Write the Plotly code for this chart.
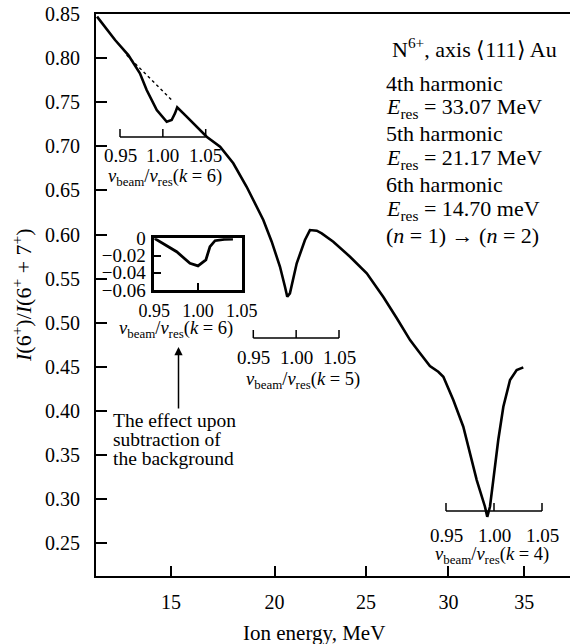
import numpy as np
import plotly.graph_objects as go

# ---------------- data ----------------
energy_mev = [11.87, 12.60, 13.15, 13.64, 13.93, 14.37, 14.81, 15.03, 15.18, 15.28,
              15.71, 16.17, 16.64, 17.28, 17.92, 18.58, 18.91, 19.42, 19.85, 20.28,
              20.54, 20.66, 20.80, 21.16, 21.60, 21.87, 22.24, 22.51, 23.15, 24.09,
              25.05, 26.02, 26.81, 27.62, 28.23, 28.84, 29.36, 29.68, 30.31, 30.95,
              31.82, 32.36, 32.51, 32.69, 32.91, 33.24, 33.58, 34.03, 34.48, 34.93]
ratio = [0.8470, 0.8205, 0.8035, 0.7828, 0.7638, 0.7412, 0.7279, 0.7298, 0.7374, 0.7442,
         0.7336, 0.7222, 0.7109, 0.6996, 0.6808, 0.6542, 0.6392, 0.6165, 0.5919, 0.5635,
         0.5409, 0.5295, 0.5334, 0.5674, 0.5938, 0.6051, 0.6044, 0.6014, 0.5919, 0.5749,
         0.5561, 0.5292, 0.5054, 0.4804, 0.4654, 0.4510, 0.4445, 0.4388, 0.4124, 0.3822,
         0.3217, 0.2915, 0.2801, 0.2915, 0.3217, 0.3671, 0.4048, 0.4351, 0.4464, 0.4495]

bg_energy = [13.08, 15.03]
bg_ratio = [0.8035, 0.7525]

inset_r = [0.950, 0.960, 0.9756, 0.9908, 1.000, 1.009, 1.0137, 1.0195, 1.030, 1.040]
inset_d = [0.000, -0.006, -0.0156, -0.029, -0.032, -0.025, -0.0097, -0.0028, -0.0012, -0.001]

x_ticks_mev = [15, 20, 25, 30, 35]
y_ticks = [0.25, 0.30, 0.35, 0.40, 0.45, 0.50, 0.55, 0.60, 0.65, 0.70, 0.75, 0.80, 0.85]
ratio_ticks = [0.95, 1.00, 1.05]
ratio_labels = ["0.95", "1.00", "1.05"]
inset_y_ticks = [0, -0.02, -0.04, -0.06]
inset_y_labels = ["0", "\u22120.02", "\u22120.04", "\u22120.06"]
harmonics_k = [6, 5, 4]

# ---------------- layout helpers ----------------
W, H = 570, 644
L, R, T, B = 96, 0, 14, 68
PW, PH = W - L - R, H - T - B
FONT = "Liberation Serif"


def px(x):
    return (x - L) / PW


def py(y):
    return (H - B - y) / PH


fig = go.Figure()
fig.add_trace(go.Scatter(x=np.sqrt(energy_mev), y=ratio, mode="lines",
                         line=dict(color="black", width=2.6), showlegend=False,
                         hoverinfo="skip"))
fig.add_trace(go.Scatter(x=np.sqrt(bg_energy), y=bg_ratio, mode="lines",
                         line=dict(color="black", width=1.4, dash="dot"),
                         showlegend=False, hoverinfo="skip"))
fig.add_trace(go.Scatter(x=inset_r, y=inset_d, mode="lines", xaxis="x2", yaxis="y2",
                         line=dict(color="black", width=2.8), showlegend=False,
                         hoverinfo="skip"))

axis_common = dict(showgrid=False, zeroline=False, showline=True, linecolor="black",
                   ticks="inside", tickcolor="black", color="black", automargin=False)

fig.update_layout(
    template="none",
    width=W, height=H,
    margin=dict(l=L, r=R, t=T, b=B, pad=0, autoexpand=False),
    paper_bgcolor="white", plot_bgcolor="rgba(0,0,0,0)",
    font=dict(family=FONT, size=20, color="black"),
    xaxis=dict(axis_common, domain=[0, 1],
               range=[np.sqrt(11.829), np.sqrt(38.196)],
               tickvals=list(np.sqrt(x_ticks_mev)),
               ticktext=[str(v) for v in x_ticks_mev],
               ticklen=10, tickwidth=2, linewidth=2, mirror=True,
               ticklabelstandoff=7, anchor="y", tickfont=dict(size=20)),
    yaxis=dict(axis_common, domain=[0, 1], range=[0.213, 0.85],
               tickvals=y_ticks, tickformat=".2f",
               ticklen=11, tickwidth=2, linewidth=2,
               ticklabelstandoff=10, anchor="x", tickfont=dict(size=20)),
    xaxis2=dict(axis_common, domain=[px(154.3), px(241.7)], range=[0.95, 1.05],
                tickvals=ratio_ticks, ticktext=ratio_labels, ticklen=7, tickwidth=2,
                linewidth=2.5, mirror=True, anchor="y2", ticklabelstandoff=3,
                tickfont=dict(size=18)),
    yaxis2=dict(axis_common, domain=[py(290), py(238.3)], range=[-0.06, 0],
                tickvals=inset_y_ticks, ticktext=inset_y_labels, ticklen=7, tickwidth=2,
                linewidth=2.5, mirror=True, anchor="x2", ticklabelstandoff=2,
                tickfont=dict(size=19)),
)

ann = []
shapes = []


def text(t, x, y, size=18, xanchor="left", angle=0):
    ann.append(dict(text=t, x=px(x), y=py(y), xref="paper", yref="paper",
                    xanchor=xanchor, yanchor="middle", showarrow=False,
                    textangle=angle, font=dict(family=FONT, size=size, color="black")))


def seg(x0, y0, x1, y1, w=1.5):
    shapes.append(dict(type="line", xref="paper", yref="paper",
                       x0=px(x0), y0=py(y0), x1=px(x1), y1=py(y1),
                       line=dict(color="black", width=w)))


# small velocity-ratio scales under each resonance:
# (left px, right px, line y, label y, title y, title centre x)
sub_axes = {6: (120, 205.7, 137, 155, 178, 165),
            5: (253.3, 339, 338, 357, 380, 303),
            4: (446, 542, 511, 535, 555, 492)}
vt = "<i>v</i><sub>beam</sub>/<i>v</i><sub>res</sub>(<i>k</i> = %d)"
for k in harmonics_k:
    xa, xb, yl, ylab, ytit, xtit = sub_axes[k]
    seg(xa, yl, xb, yl, 1.5)
    for r, lab in zip(ratio_ticks, ratio_labels):
        xt = xa + (r - ratio_ticks[0]) / (ratio_ticks[-1] - ratio_ticks[0]) * (xb - xa)
        seg(xt, yl, xt, yl - 8, 1.5)
        text(lab, xt, ylab, 19, "center")
    text(vt % k, xtit, ytit, 18.5, "center")

text(vt % 6, 176, 329, 18.5, "center")

text("N<sup>6+</sup>, axis \u27e8111\u27e9 Au", 390, 48, 22)
block = ["4th harmonic", "<i>E</i><sub>res</sub> = 33.07 MeV",
         "5th harmonic", "<i>E</i><sub>res</sub> = 21.17 MeV",
         "6th harmonic", "<i>E</i><sub>res</sub> = 14.70 meV",
         "(<i>n</i> = 1) \u2192 (<i>n</i> = 2)"]
for j, line in enumerate(block):
    text(line, 384, 83 + j * 25.4, 22)

text("The effect upon", 111, 420, 19.5)
text("subtraction of", 111, 439, 19.5)
text("the background", 111, 458, 19.5)

text("Ion energy, MeV", 313.5, 633, 21, "center")
text("<i>I</i>(6<sup>+</sup>)/<i>I</i>(6<sup>+</sup> + 7<sup>+</sup>)", 22, 295, 22,
     "center", -90)

ann.append(dict(text="", x=px(178.5), y=py(347), xref="paper", yref="paper",
                ax=0, ay=63, showarrow=True, arrowhead=2, arrowsize=1.1,
                arrowwidth=1.5, arrowcolor="black", standoff=0))

fig.update_layout(annotations=ann, shapes=shapes)
fig.write_html("out.html")
